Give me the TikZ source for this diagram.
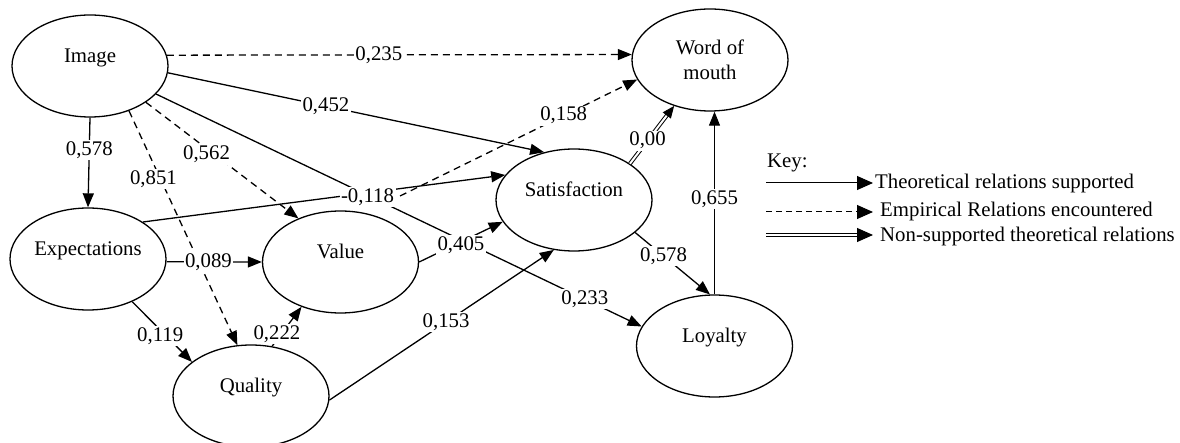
\documentclass[tikz,border=0pt]{standalone}
\usepackage{fontspec}
\setmainfont{Liberation Serif}
\usetikzlibrary{shapes.geometric,arrows.meta,calc}
\begin{document}
\begin{tikzpicture}[x=1pt,y=-1pt,
  font=\fontsize{20.8}{25}\selectfont,
  var/.style={ellipse,draw,line width=1.3pt,minimum width=156pt,minimum height=102pt,inner sep=0pt,text height=8pt,text depth=15pt},
  rel/.style={line width=1.3pt,-{Triangle[length=14pt,width=11pt]}},
  emp/.style={rel,dash pattern=on 7pt off 5pt},
  dbl/.style={line width=1pt,double,double distance=2pt},
  tip/.style={line width=1pt,-{Triangle[length=12pt,width=10pt]}},
  lab/.style={fill=white,inner sep=1.5pt},
  keyline/.style={line width=1pt,-{Triangle[length=16pt,width=14pt]}},
  keytext/.style={anchor=west,inner sep=0pt}
]
\useasboundingbox (0,0) rectangle (1180,443);

% constructs
\node[var] (img) at (90,66) {Image};
\node[var] (exp) at (88,259) {Expectations};
\node[var] (val) at (340.5,262) {Value};
\node[var] (qua) at (251,396) {Quality};
\node[var] (sat) at (574,200) {Satisfaction};
\node[var,text height=,text depth=,align=center] (wom) at (710,60) {Word of\\mouth};
\node[var] (loy) at (714.5,346) {Loyalty};

% relations
\draw[emp] (img.8) -- node[lab,pos=0.456]{0,235} (wom.176);
\draw[rel] (img.-5) -- node[lab,pos=0.42]{0,452} (sat.122);
\draw[rel] (img.south) -- node[lab,pos=0.36]{0,578} (exp.north);
\draw[emp] (img.-49) -- node[lab,pos=0.29,xshift=-7pt]{0,851} (qua.105);
\draw[emp] (img.-33) -- node[lab,pos=0.45,xshift=-8pt]{0,562} (val.134.7);
\draw[rel] (img.-23.4) -- node[lab,pos=0.883]{0,233} (loy.165.5);
\draw[rel] (exp.34) -- node[lab,pos=0.62,yshift=-4pt]{-0,118} (sat.160.9);
\coordinate (c158) at (400,196);
\draw[emp] (c158) -- node[lab,pos=0.69]{0,158} (wom.195.7);
\draw[rel] (exp.-2) -- node[lab,pos=0.44]{0,089} (val.west);
\draw[rel] (exp.-44.3) -- node[lab,pos=0.57,xshift=-6pt]{0,119} (qua.150.5);
\draw[rel] (qua.67) -- node[lab,pos=0.3,xshift=-4pt]{0,222} (val.-131.2);
\draw[rel] (val.east) -- node[lab,pos=0.5,yshift=-3pt]{0,405} (sat.197.3);
\draw[rel] (qua.-3) -- node[lab,pos=0.52]{0,153} (sat.248.4);
\draw[dbl,shorten >=10pt] (sat.33.5) -- node[lab,pos=0.4]{0,00} (wom.-128.4);
\draw[tip] ($(wom.-128.4)!12pt!(sat.33.5)$) -- (wom.-128.4);
\draw[rel] (sat.-28.4) -- node[lab,pos=0.38]{0,578} (loy.95);
\draw[rel,line width=1pt] (loy.north) -- node[lab,pos=0.52]{0,655} (loy.north |- wom.south);

% key
\node[keytext] (key) at (767,163) {Key:};
\coordinate (k1a) at (766,183); \coordinate (k1b) at (873,183);
\coordinate (k2a) at (766,212); \coordinate (k2b) at (873,212);
\coordinate (k3a) at (766,235); \coordinate (k3b) at (873,235);
\draw[keyline] (k1a) -- (k1b);
\draw[keyline,dash pattern=on 6pt off 4pt] (k2a) -- (k2b);
\draw[dbl,shorten >=12pt] (k3a) -- (k3b);
\draw[keyline] ($(k3b)+(-16,0)$) -- (k3b);
\node[keytext] (k1t) at (875,184) {Theoretical relations supported};
\node[keytext] (k2t) at (880,212) {Empirical Relations encountered};
\node[keytext] (k3t) at (880,236) {Non-supported theoretical relations};
\end{tikzpicture}
\end{document}
